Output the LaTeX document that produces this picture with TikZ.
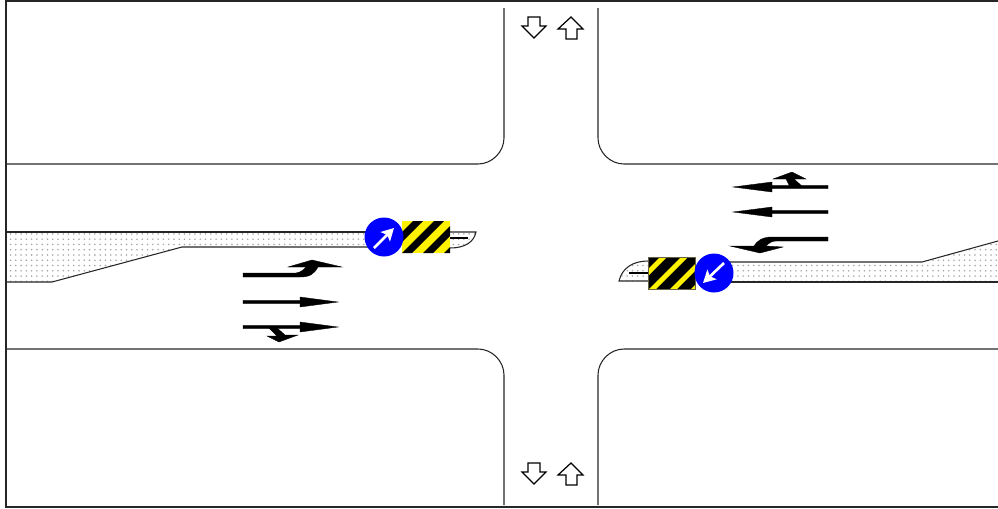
\documentclass[tikz,border=0pt]{standalone}
\usepackage{amsmath}
\usetikzlibrary{patterns,arrows.meta}

\tikzset{
  road/.style={black!85,line width=0.6pt},
  island/.style={pattern=dots,pattern color=black!35},
  lane/.style={black,fill=black,line width=0.2pt},
  sign/.style={circle,fill=blue,minimum size=0.78cm,inner sep=0pt},
  signarrow/.style={-{Stealth[length=7pt,width=7.5pt,inset=1.5pt]},white,line width=1.5pt},
  small/.style={black,line width=0.7pt}
}

\begin{document}
\begin{tikzpicture}[x=0.02cm,y=-0.02cm]
\useasboundingbox (0,0) rectangle (998,508);

% frame
\draw[road] (998,1) -- (6,1) -- (6,507) -- (998,507);

% corners of the crossing
\draw[road] (6,164) -- (478,164) .. controls (492,164) and (504,152) .. (504,138) -- (504,8);
\draw[road] (998,164) -- (624,164) .. controls (610,164) and (598,152) .. (598,138) -- (598,8);
\draw[road] (6,349) -- (478,349) .. controls (492,349) and (504,361) .. (504,375) -- (504,505);
\draw[road] (998,349) -- (624,349) .. controls (610,349) and (598,361) .. (598,375) -- (598,505);

% islands
\fill[island] (6,232) -- (370,232) -- (370,247) -- (182,247) -- (52,282) -- (6,282) -- cycle;
\draw[road] (6,232) -- (370,232);
\draw[road] (6,282) -- (52,282) -- (182,247) -- (370,247);
\fill[island] (998,241) -- (922,262) -- (725,262) -- (725,282) -- (998,282) -- cycle;
\draw[road] (998,241) -- (922,262) -- (725,262);
\draw[road] (725,282) -- (998,282);

% island noses
\fill[island] (450,232) -- (476,232) .. controls (474,242) and (465,248) .. (450,248);
\draw[road] (450,232) -- (476,232) .. controls (474,242) and (465,248) .. (450,248);
\draw[black,line width=1.1pt] (450,238) -- (468,238);
\fill[island] (648,261) .. controls (633,261) and (622,268) .. (619,281) -- (648,281);
\draw[road] (648,261) .. controls (633,261) and (622,268) .. (619,281) -- (648,281);
\draw[black,line width=1.1pt] (629,273) -- (648,273);

% hazard boxes
\begin{scope}
    \clip (402,221) rectangle (450,253);
    \fill[yellow] (402,221) rectangle (450,253);
    \foreach \i in {0,...,4}
        \fill[black] ({381+21*\i},253) -- ({391+21*\i},253) -- ({423+21*\i},221) -- ({413+21*\i},221) -- cycle;
\end{scope}
\begin{scope}
    \clip (648,257) rectangle (695,289);
    \fill[black] (648,257) rectangle (695,289);
    \foreach \i in {0,...,4}
        \fill[yellow] ({628+21*\i},289) -- ({635+21*\i},289) -- ({667+21*\i},257) -- ({660+21*\i},257) -- cycle;
\end{scope}
\draw[black!70!yellow,line width=0.4pt] (648,257) rectangle (695,289);

% signs
\node[sign] (signleft) at (384,237) {};
\node[sign] (signright) at (714,273) {};
\coordinate (signlefta) at (374,248);
\coordinate (signleftb) at (394,228);
\coordinate (signrighta) at (724,263);
\coordinate (signrightb) at (703,283);
\draw[signarrow] (signlefta) -- (signleftb);
\draw[signarrow] (signrighta) -- (signrightb);

% lane arrows, eastbound
\filldraw[lane] (243,273) -- (296,273) .. controls (302,272) and (304,269) .. (306,267) -- (288,267) -- (312,260) -- (342,267) -- (318,267) .. controls (314,274) and (310,277) .. (300,277) -- (243,277) -- cycle;
\foreach \y in {302,327} {
    \filldraw[lane] (243,{\y-1.7}) -- (300,{\y-1.7}) -- (300,{\y-5}) -- (338,\y) -- (300,{\y+5}) -- (300,{\y+1.7}) -- (243,{\y+1.7}) -- cycle;
}
\filldraw[lane] (268,327) -- (276,327) -- (285,335) -- (298,335) -- (279,342) -- (267,336) -- (277,336) -- cycle;

% lane arrows, westbound
\foreach \y in {187,212} {
    \filldraw[lane] (828,{\y-1.7}) -- (772,{\y-1.7}) -- (772,{\y-5}) -- (733,\y) -- (772,{\y+5}) -- (772,{\y+1.7}) -- (828,{\y+1.7}) -- cycle;
}
\filldraw[lane] (790,187) -- (786,179) -- (773,179) -- (792,172) -- (806,179) -- (794,179) -- (803,187) -- cycle;
\filldraw[lane] (828,237) -- (772,237) .. controls (762,237) and (757,241) .. (754,246) -- (730,246) -- (760,253) -- (783,247) -- (766,246) .. controls (769,243) and (772,241) .. (776,241) -- (828,241) -- cycle;

% small direction arrows
\foreach \d in {0,446} {
    \draw[small] (528,{17+\d}) -- (540,{17+\d}) -- (540,{26+\d}) -- (546,{26+\d}) -- (534,{38+\d}) -- (522,{26+\d}) -- (528,{26+\d}) -- cycle;
    \draw[small] (566,{39+\d}) -- (577,{39+\d}) -- (577,{29+\d}) -- (583,{29+\d}) -- (571,{17+\d}) -- (558,{29+\d}) -- (566,{29+\d}) -- cycle;
}

\end{tikzpicture}
\end{document}
